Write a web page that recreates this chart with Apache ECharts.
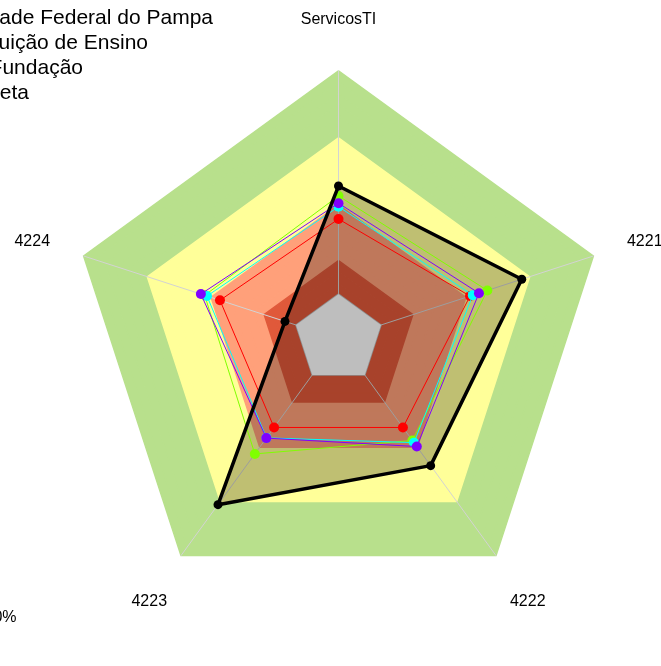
<!DOCTYPE html>
<html>
<head>
<meta charset="utf-8">
<script src="https://cdn.jsdelivr.net/npm/echarts@6/dist/echarts.min.js"></script>
<style>
html,body{margin:0;padding:0;background:#fff;}
#chart{width:661px;height:666px;}
</style>
</head>
<body>
<div id="chart"></div>
<script>
// Indicator order as ECharts lays them out (counter-clockwise from the top)
var categories = ['ServicosTI', '4224', '4223', '4222', '4221'];
var axisMax = 100;

// Series values (percent), same order as categories
var meta        = [57.0, 21.0, 76.5, 58.5, 71.9];
var serieRed    = [44.7, 46.5, 40.9, 40.9, 51.6];
var serieGreen  = [53.3, 52.5, 53.1, 46.9, 58.4];
var serieCyan   = [49.3, 51.6, 45.7, 47.9, 52.7];
var seriePurple = [50.6, 54.0, 45.8, 49.7, 55.1];

// Background zones: number of 1/24 steps each zone covers, from centre outwards
var zoneSteps  = [4, 3, 5, 6, 6];
var zoneColors = ['#BEBEBE', '#E0593A', '#FFA07A', '#FFFF99', '#B8E08C'];
var totalSteps = 24;
var centreLevel = axisMax * zoneSteps[0] / totalSteps;

var legendLabels = ['Universidade Federal do Pampa', 'Instituição de Ensino', 'Fundação', 'Meta'];
var noteLabel = '100%';

var splitColors = [];
zoneSteps.forEach(function (n, i) { for (var k = 0; k < n; k++) splitColors.push(zoneColors[i]); });
// ring-boundary lines coloured like the ring inside them, to hide seams
var splitLineColors = [];
for (var t = 0; t <= totalSteps; t++) splitLineColors.push(splitColors[Math.max(0, t - 1)]);

var chart = echarts.init(document.getElementById('chart'), null, {renderer: 'canvas'});
var FONT = 'Liberation Sans, Arial, sans-serif';

var legendEnds = [[213, 18.5], [148, 43.5], [83, 68.5], [29, 93.5]];
var graphics = legendLabels.map(function (t, i) {
  return {type: 'text', x: legendEnds[i][0], y: legendEnds[i][1], z: 100,
    style: {text: t, font: '21px ' + FONT, fill: '#000', align: 'right', verticalAlign: 'middle'}};
});
graphics.push({type: 'text', x: 16.5, y: 617.5, z: 100,
  style: {text: noteLabel, font: '16px ' + FONT, fill: '#000', align: 'right', verticalAlign: 'middle'}});

function lineSeries(name, vals, color, z) {
  return {
    type: 'radar', name: name, z: z,
    symbol: 'circle', symbolSize: 10,
    itemStyle: {color: color},
    lineStyle: {color: color, width: 1},
    data: [{value: vals, name: name}]
  };
}

var option = {
  animation: false,
  backgroundColor: '#fff',
  radar: {
    center: [338.5, 338.8],
    radius: 268,
    startAngle: 90,
    shape: 'polygon',
    splitNumber: totalSteps,
    nameGap: 54,
    indicator: categories.map(function (c) { return {name: c, min: 0, max: axisMax}; }),
    axisName: {
      color: '#000', fontSize: 16, fontFamily: FONT, align: 'center', verticalAlign: 'middle',
      formatter: '{a|{value}}',
      rich: {a: {color: '#000', fontSize: 16, fontFamily: FONT, padding: [5, 0, 0, 0]}}
    },
    splitLine: {show: true, lineStyle: {color: splitLineColors, width: 1.5}},
    splitArea: {show: true, areaStyle: {color: splitColors, opacity: 1}},
    axisLine: {show: true, lineStyle: {color: '#D3D3D3', width: 1}},
    axisTick: {show: false},
    axisLabel: {show: false}
  },
  series: [
    {
      type: 'radar', name: 'Meta (área)', z: 3, symbol: 'none',
      lineStyle: {width: 0, opacity: 0},
      itemStyle: {color: '#000'},
      areaStyle: {color: 'rgba(0,0,0,0.25)', opacity: 1},
      data: [{value: meta, name: 'Meta'}]
    },
    {
      type: 'radar', name: 'centro', z: 4, symbol: 'none',
      lineStyle: {width: 0, opacity: 0},
      itemStyle: {color: zoneColors[0]},
      areaStyle: {color: zoneColors[0], opacity: 1},
      data: [{value: categories.map(function () { return centreLevel; }), name: 'centro'}]
    },
    lineSeries('Universidade Federal do Pampa', serieRed, '#FF0000', 5),
    lineSeries('Instituição de Ensino', serieGreen, '#80FF00', 6),
    lineSeries('Fundação', serieCyan, '#00FFFF', 7),
    lineSeries('Outra', seriePurple, '#8000FF', 8),
    {
      type: 'radar', name: 'Meta', z: 9,
      symbol: 'circle', symbolSize: 9,
      itemStyle: {color: '#000'},
      lineStyle: {color: '#000', width: 3.5},
      data: [{value: meta, name: 'Meta'}]
    }
  ],
  graphic: graphics
};
chart.setOption(option);
</script>
</body>
</html>
